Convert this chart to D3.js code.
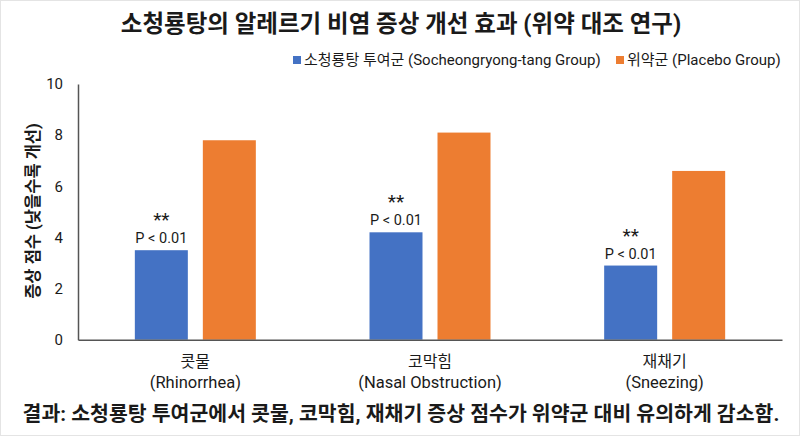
<!DOCTYPE html>
<html><head><meta charset="utf-8">
<script src="https://cdn.jsdelivr.net/npm/d3@7"></script>
<style>
html,body{margin:0;padding:0;background:#fff;}
svg{display:block;}
text{font-family:Roboto,"Noto Sans CJK KR",sans-serif;fill:#1a1a1a;}
</style></head>
<body>
<svg id="c" width="800" height="436"></svg>
<script>
const categoriesKo = ["콧물", "코막힘", "재채기"];
const categoriesEn = ["(Rhinorrhea)", "(Nasal Obstruction)", "(Sneezing)"];
const seriesNames = ["소청룡탕 투여군 (Socheongryong-tang Group)", "위약군 (Placebo Group)"];
const treatmentValues = [3.5, 4.2, 2.9];
const placeboValues = [7.8, 8.1, 6.6];
const pLabels = ["P < 0.01", "P < 0.01", "P < 0.01"];
const sigMarks = ["**", "**", "**"];
const yTicks = [0, 2, 4, 6, 8, 10];
const colors = ["#4472C4", "#ED7D31"];
const titleText = "소청룡탕의 알레르기 비염 증상 개선 효과 (위약 대조 연구)";
const yTitle = "증상 점수 (낮을수록 개선)";
const footText = "결과: 소청룡탕 투여군에서 콧물, 코막힘, 재채기 증상 점수가 위약군 대비 유의하게 감소함.";

const svg = d3.select("#c");
svg.append("rect").attr("x",0.5).attr("y",0.5).attr("width",799).attr("height",435)
  .attr("fill","#fff").attr("stroke","#e4e4e4");

const mL = 78, mR = 782, mT = 84, mB = 339.7;
const x0 = d3.scaleBand().domain(d3.range(categoriesKo.length)).range([mL, mR])
  .paddingInner(0.4844).paddingOuter(0.2422);
const x1 = d3.scaleBand().domain([0,1]).range([0, x0.bandwidth()]).paddingInner(0.2206);
const y = d3.scaleLinear().domain([0, 10]).range([mB, mT]);

const data = categoriesKo.map((c,i)=>({i, vals:[treatmentValues[i], placeboValues[i]]}));

const g = svg.append("g");
g.selectAll("g.grp").data(data).join("g").attr("class","grp")
  .attr("transform", d=>`translate(${x0(d.i)},0)`)
  .selectAll("rect").data(d=>d.vals.map((v,k)=>({v,k}))).join("rect")
  .attr("x", d=>x1(d.k)).attr("width", x1.bandwidth())
  .attr("y", d=>y(d.v)).attr("height", d=>y(0)-y(d.v))
  .attr("fill", d=>colors[d.k]);

// significance labels
data.forEach(d=>{
  const cx = x0(d.i) + x1(0) + x1.bandwidth()/2;
  const ty = y(treatmentValues[d.i]);
  svg.append("text").attr("x",cx).attr("y",ty-7).attr("text-anchor","middle")
    .attr("font-size",14.5).text(pLabels[d.i]);
  svg.append("text").attr("x",cx).attr("y",ty-24).attr("text-anchor","middle")
    .attr("font-size",19).attr("font-family","'DejaVu Sans',sans-serif").text(sigMarks[d.i]);
});

// y axis
const yAxis = d3.axisLeft(y).tickValues(yTicks).tickSize(0).tickPadding(15);
const ya = svg.append("g").attr("transform",`translate(${mL},0)`).call(yAxis);
ya.select(".domain").attr("stroke","#555").attr("stroke-width",1.5);
ya.selectAll("text").attr("font-size",15).attr("fill","#222").attr("font-family","Roboto,sans-serif");

// x axis
const xa = svg.append("g").attr("transform",`translate(0,${mB})`)
  .call(d3.axisBottom(x0).tickSize(0).tickFormat(()=>""));
xa.select(".domain").attr("stroke","#555").attr("stroke-width",1.5);
xa.selectAll(".tick").each(function(i){
  const t = d3.select(this);
  t.select("text").remove();
  t.append("text").attr("y",27).attr("text-anchor","middle").attr("font-size",16).text(categoriesKo[i]);
  t.append("text").attr("y",48).attr("text-anchor","middle").attr("font-size",16.5).text(categoriesEn[i]);
});

// y title
svg.append("text").attr("transform","translate(39,211) rotate(-90)").attr("text-anchor","middle")
  .attr("font-size",16.5).attr("font-weight","bold").text(yTitle);

// title
svg.append("text").attr("x",401).attr("y",32).attr("text-anchor","middle")
  .attr("font-size",23.5).attr("font-weight","bold").text(titleText);

// legend
const leg = [{x:293, t:seriesNames[0], c:colors[0]}, {x:616, t:seriesNames[1], c:colors[1]}];
leg.forEach(l=>{
  svg.append("rect").attr("x",l.x).attr("y",56).attr("width",8).attr("height",8).attr("fill",l.c);
  svg.append("text").attr("x",l.x+11).attr("y",65).attr("font-size",15).text(l.t);
});

// footer
svg.append("text").attr("x",401).attr("y",421).attr("text-anchor","middle")
  .attr("font-size",20.5).attr("font-weight","bold").text(footText);
</script>
</body></html>
